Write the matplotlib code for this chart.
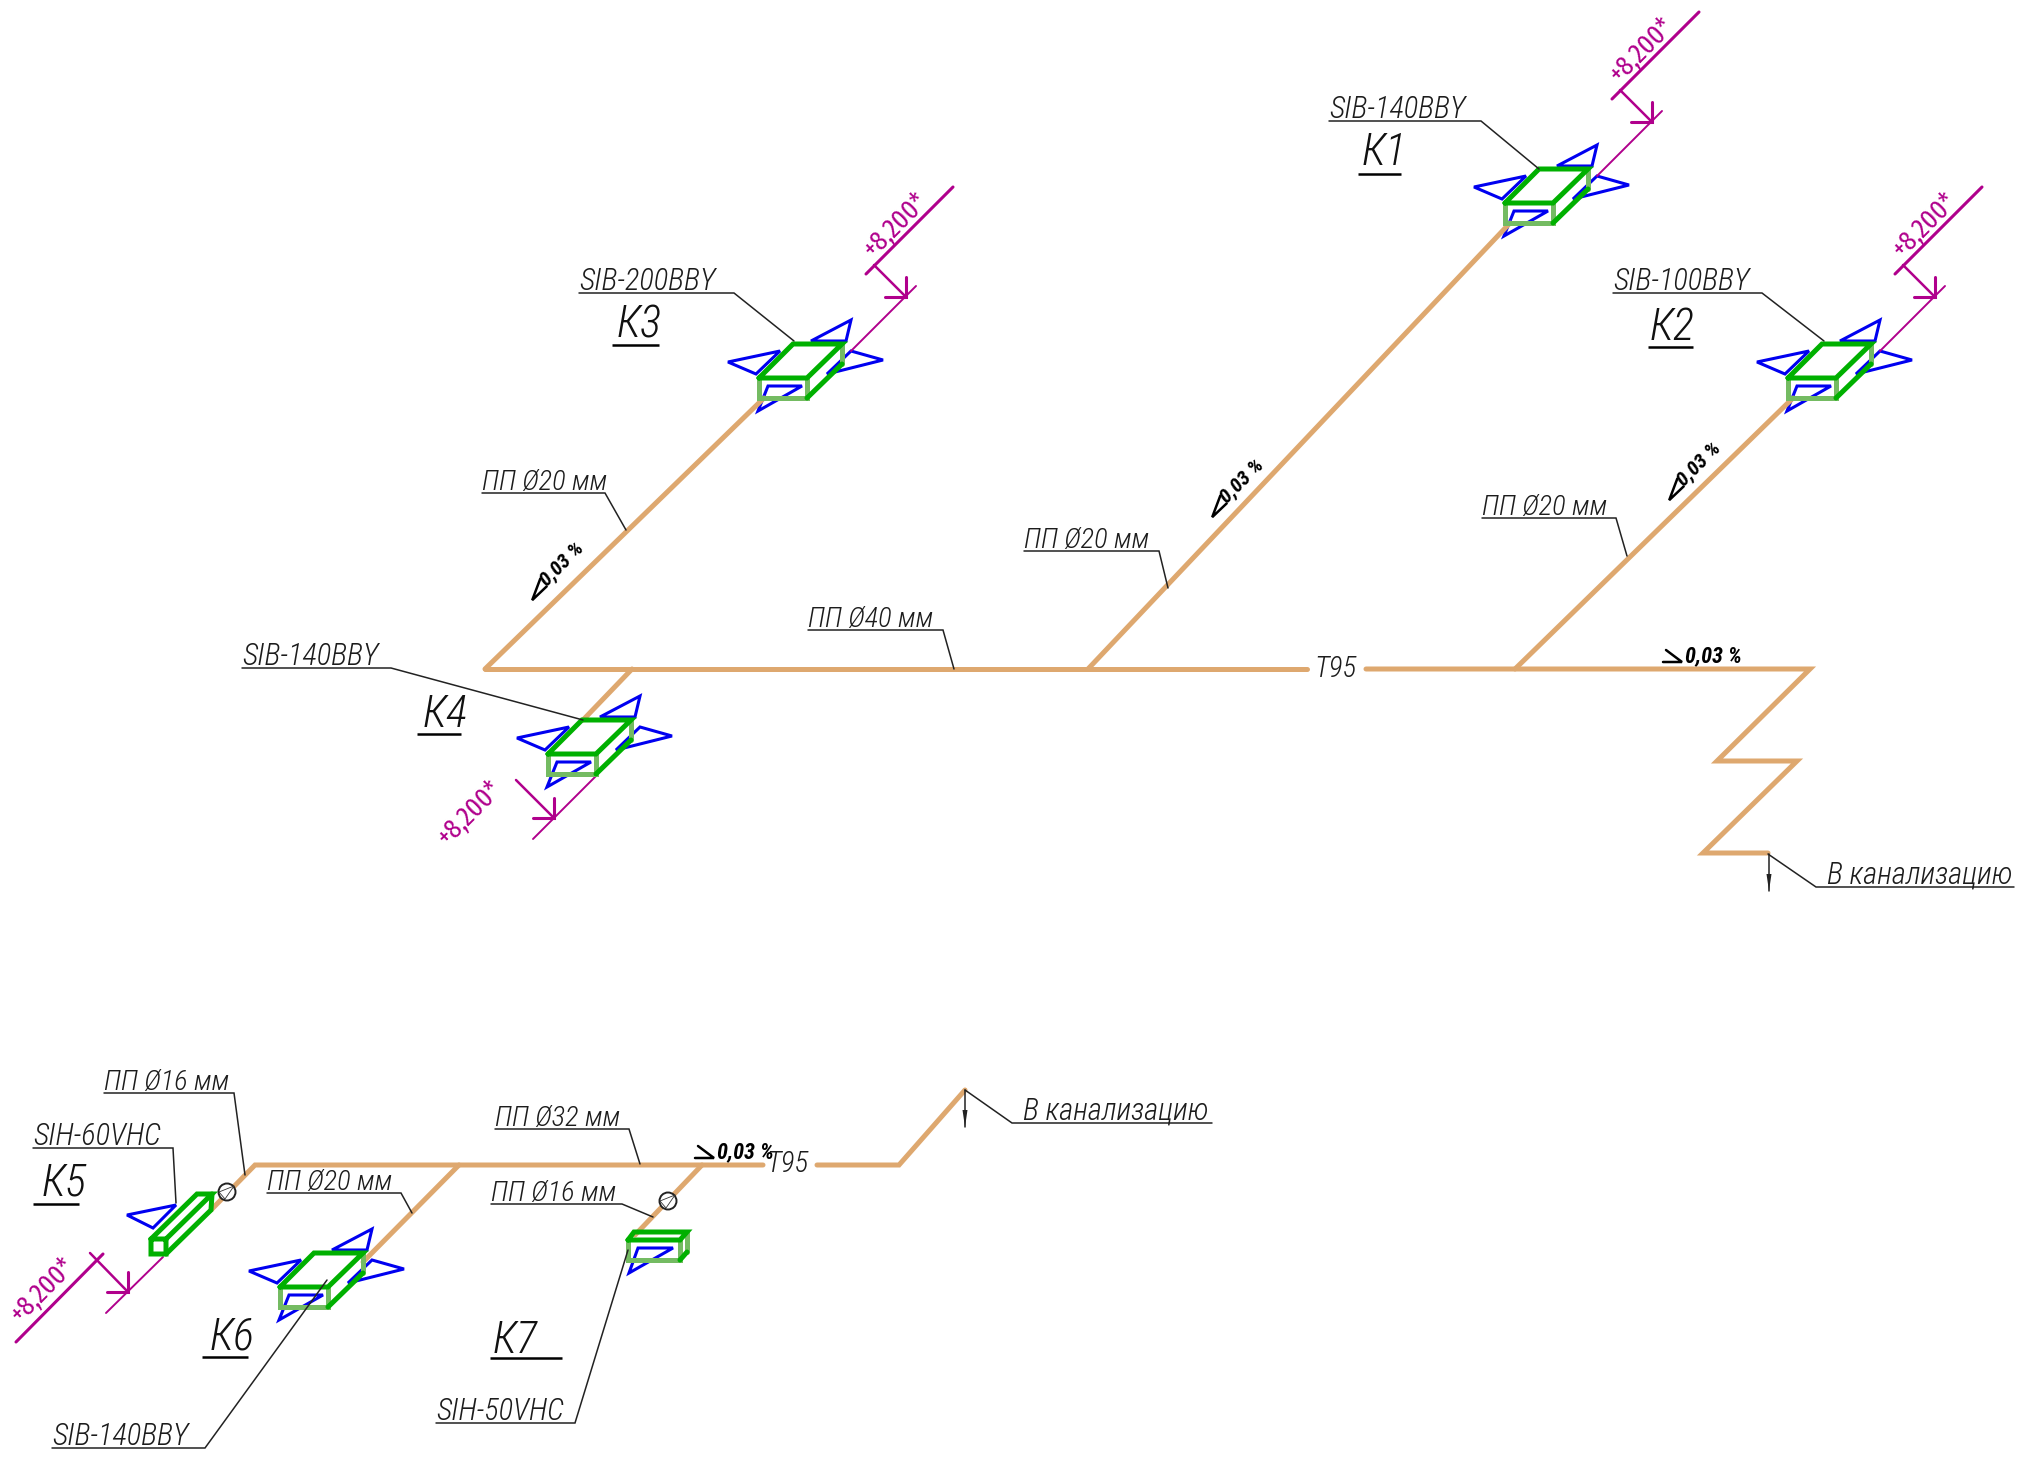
import numpy as np
import matplotlib
matplotlib.use("Agg")
import matplotlib.pyplot as plt
from matplotlib.patches import Circle, Polygon
import logging

logging.getLogger("matplotlib.font_manager").setLevel(logging.ERROR)

PIPE = "#dea86f"
GREEN = "#00b000"
LGREEN = "#74bb62"
BLUE = "#0000f0"
MAG = "#b0008c"
FONT = ["Roboto Condensed", "Liberation Sans"]
FONT_MAG = ["Fira Sans Extra Condensed", "Roboto Condensed", "Liberation Sans"]

# all geometry read in pixels of the drawing
pipes = [
    [(485, 669), (1307, 669)],
    [(1366, 669), (1810, 669), (1717, 761), (1797, 761), (1703, 853), (1768, 853)],
    [(485, 669), (764, 398)],
    [(1088, 669), (1510, 223)],
    [(1515, 669), (1793, 398)],
    [(632, 669), (583, 720)],
    [(211, 1210), (255, 1165), (763, 1165)],
    [(817, 1165), (899, 1165), (965, 1090)],
    [(459, 1165), (363, 1262)],
    [(702, 1165), (635, 1235)],
]

big_units = [(1505, 203), (1788, 378), (759, 378), (548, 754), (280, 1287)]

leaders = [
    [(1329, 121), (1481, 121), (1539, 169)],
    [(1613, 293), (1762, 293), (1824, 341)],
    [(579, 293), (734, 293), (794, 341)],
    [(482, 493), (605, 493), (626, 530)],
    [(808, 630), (943, 630), (954, 669)],
    [(1024, 551), (1159, 551), (1168, 588)],
    [(1482, 518), (1616, 518), (1627, 556)],
    [(242, 668), (391, 668), (583, 720)],
    [(104, 1093), (234, 1093), (245, 1175)],
    [(33, 1148), (173, 1148), (176, 1203)],
    [(267, 1193), (401, 1193), (412, 1213)],
    [(52, 1448), (205, 1448), (327, 1280)],
    [(495, 1129), (629, 1129), (640, 1164)],
    [(491, 1204), (622, 1204), (653, 1217)],
    [(436, 1423), (575, 1423), (628, 1250)],
    [(1768, 854), (1816, 887), (2014, 887)],
    [(965, 1090), (1012, 1123), (1212, 1123)],
]

notes = [
    ("SIB-140BBY", 1329, 118), ("SIB-100BBY", 1613, 290), ("SIB-200BBY", 579, 290),
    ("ПП Ø20 мм", 482, 490), ("ПП Ø40 мм", 808, 627), ("ПП Ø20 мм", 1024, 548),
    ("ПП Ø20 мм", 1482, 515), ("SIB-140BBY", 242, 665), ("ПП Ø16 мм", 104, 1090),
    ("SIH-60VHC", 33, 1145), ("ПП Ø20 мм", 267, 1190), ("SIB-140BBY", 52, 1445),
    ("ПП Ø32 мм", 495, 1126), ("ПП Ø16 мм", 491, 1201), ("SIH-50VHC", 436, 1420),
    ("В канализацию", 1827, 884), ("В канализацию", 1023, 1120),
]
t95 = [(1335, 677), (787, 1172)]

marks = [
    ("К1", 1362, 165, 1358, 1401, 174), ("К2", 1650, 340, 1648, 1693, 347),
    ("К3", 617, 338, 612, 659, 345), ("К4", 423, 727, 417, 461, 734),
    ("К5", 42, 1196, 33, 79, 1204), ("К6", 210, 1349, 202, 248, 1357),
    ("К7", 493, 1353, 490, 562, 1358),
]

slopes_diag = [(558, 568), (1238, 485), (1695, 468)]
slopes_flat = [(1712, 656), (744, 1152)]
slope_text = "0,03 %"
valves = [(227, 1192), (668, 1201)]
level_text = "+8,200*"

fig = plt.figure(figsize=(20.17, 14.61), dpi=100)
ax = fig.add_axes([0, 0, 1, 1])
ax.set_xlim(0, 2017)
ax.set_ylim(1461, 0)
ax.axis("off")


def line(pts, color="black", lw=1.0, z=3, cap="round"):
    xs, ys = zip(*pts)
    ax.plot(xs, ys, color=color, lw=lw, zorder=z, solid_capstyle=cap, solid_joinstyle="miter")


def tri(pts):
    ax.add_patch(Polygon(pts, closed=True, fill=False, ec=BLUE, lw=2.2, zorder=1, joinstyle="miter"))


def shifted(x, y, rel):
    return [(x + a, y + b) for a, b in rel]


def box(top, front_h):
    # top = front-left, front-right, back-right, back-left corners of the upper face
    fl, fr, br, bl = top
    line([(fl[0], fl[1]), (fl[0], fl[1] + front_h), (fr[0], fr[1] + front_h), (fr[0], fr[1])],
         LGREEN, 3.6, 5)
    line([br, (br[0], br[1] + front_h)], LGREEN, 3.6, 5)
    line([fl, fr, br, bl, fl], GREEN, 3.6, 6)
    line([(fr[0], fr[1] + front_h), (br[0], br[1] + front_h)], GREEN, 3.6, 6)


def level_text_at(x, y):
    ax.text(x, y, level_text, family=FONT_MAG, fontsize=20, color=MAG, rotation=45,
            rotation_mode="anchor", ha="center", va="center", zorder=7)


for p in pipes:
    line(p, PIPE, 3.6, 2)

for x, y in big_units:
    tri(shifted(x, y, [(52, -37), (92, -58), (87, -37)]))
    tri(shifted(x, y, [(-31, -16), (21, -27), (-3, -4)]))
    tri(shifted(x, y, [(92, -27), (124, -18), (68, -4)]))
    tri(shifted(x, y, [(9, 8), (43, 8), (-1, 33)]))
    box(shifted(x, y, [(0, 0), (48, 0), (83, -34), (34, -34)]), 20)

# narrow wall unit K5
tri([(127, 1215), (176, 1205), (153, 1228)])
line([(151, 1239), (166, 1239), (212, 1194), (197, 1194), (151, 1239), (151, 1254), (166, 1254),
      (166, 1239)], GREEN, 3.6, 6)
line([(166, 1254), (211, 1210), (212, 1194)], GREEN, 3.6, 6)

# small unit K7
tri([(638, 1248), (673, 1248), (629, 1273)])
box([(628, 1240), (680, 1240), (687, 1232), (634, 1232)], 20)

for p in leaders:
    line(p, "#222222", 1.1, 7)

# drain arrows
for ax_x, y0, y1 in [(1769, 854, 891), (965, 1090, 1127)]:
    line([(ax_x, y0), (ax_x, y1)], "#222222", 1.1, 4)
    ax.add_patch(Polygon([(ax_x - 2.5, y1 - 17), (ax_x + 2.5, y1 - 17), (ax_x, y1)],
                         fc="#222222", ec="none", zorder=4))

for cx, cy in valves:
    ax.add_patch(Circle((cx, cy), 8.5, fc="white", ec="#222222", lw=1.4, zorder=4))
    line([(cx + 7, cy - 6), (cx - 8, cy), (cx - 2, cy + 7), (cx + 7, cy - 6)], "#333333", 0.6, 5)

for txt, x, y in notes:
    size = 20.5 if txt.startswith("ПП") else 22
    ax.text(x, y, txt, family=FONT, style="italic", weight="light", fontsize=size, color="#1c1c1c",
            ha="left", va="baseline", zorder=8)
for x, y in t95:
    ax.text(x, y, "T95", family=FONT, style="italic", weight="light", fontsize=21, color="#1c1c1c",
            ha="center", va="baseline", zorder=8)

for txt, x, y, u0, u1, uy in marks:
    ax.text(x, y, txt, family=FONT, style="italic", weight="light", fontsize=32, color="#111111",
            ha="left", va="baseline", zorder=8)
    line([(u0, uy), (u1, uy)], "black", 1.8, 7, "butt")

for x, y in slopes_diag:
    ax.text(x + 4, y - 4, slope_text, family=FONT, style="italic", weight="bold", fontsize=15,
            rotation=45, rotation_mode="anchor", ha="center", va="center", zorder=8)
    t = np.deg2rad(45)
    rel = [(-21, 5), (-41, 4.5), (-20, -5)]
    pts = [(x + a * np.cos(t) + b * np.sin(t), y - a * np.sin(t) + b * np.cos(t)) for a, b in rel]
    line(pts, "black", 1.8, 7)

for x, y in slopes_flat:
    ax.text(x + 1, y, slope_text, family=FONT, style="italic", weight="bold", fontsize=16,
            ha="center", va="center", zorder=8)
    line(shifted(x, y, [(-49, 6), (-30, 6), (-46, -6)]), "black", 1.8, 7)

# level marks, same offsets from the unit corner for K1, K2, K3
for x, y in big_units[:3]:
    line(shifted(x, y, [(107, -104), (194, -191)]), MAG, 2.2, 3)
    line(shifted(x, y, [(115, -113), (147, -81)]), MAG, 1.8, 3)
    line(shifted(x, y, [(126, -81), (147, -81), (147, -101)]), MAG, 2.2, 3)
    line(shifted(x, y, [(157, -92), (92, -27)]), MAG, 1.4, 3)
    level_text_at(x + 137, y - 153)

# K4
line([(598, 774), (533, 839)], MAG, 1.4, 3)
line([(516, 780), (554, 818)], MAG, 1.8, 3)
line([(533, 818), (554, 818), (554, 798)], MAG, 2.2, 3)
level_text_at(470, 813)

# K5
line([(16, 1342), (103, 1254)], MAG, 2.2, 3)
line([(90, 1253), (128, 1292)], MAG, 1.8, 3)
line([(107, 1292), (128, 1292), (128, 1272)], MAG, 2.2, 3)
line([(163, 1257), (106, 1313)], MAG, 1.4, 3)
level_text_at(43, 1290)

fig.savefig("out.png", dpi=100, facecolor="white")
